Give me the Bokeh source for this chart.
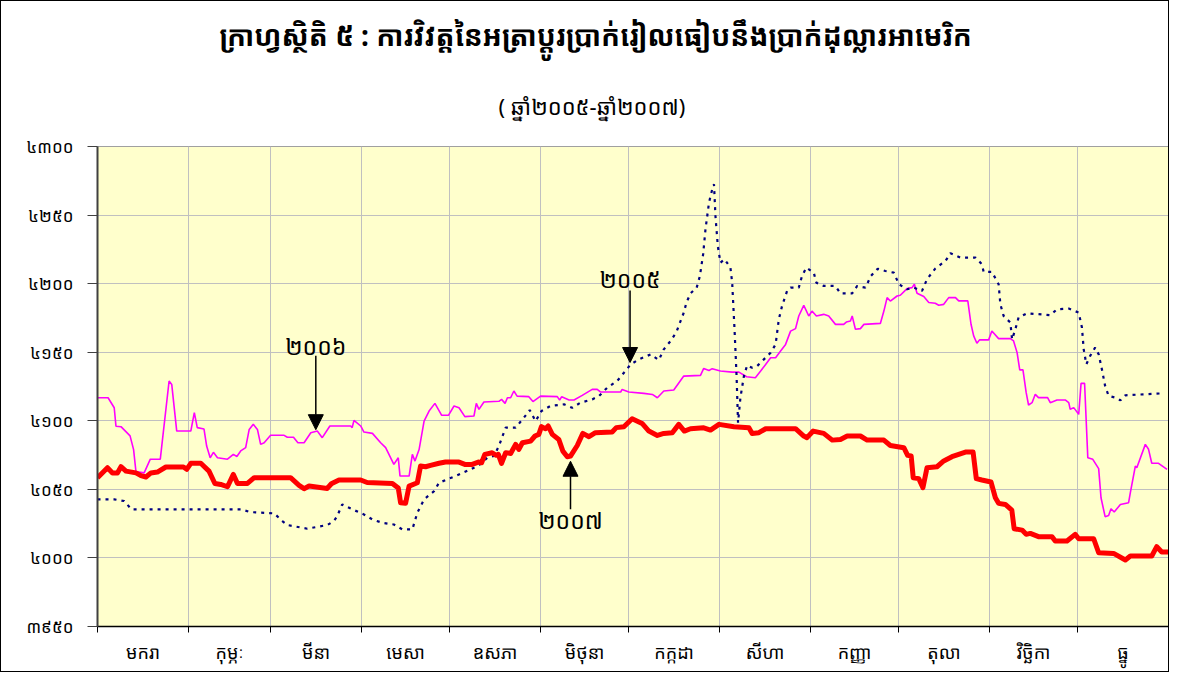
from bokeh.plotting import figure
from bokeh.models import FixedTicker, Title, Arrow, NormalHead, Label, Range1d
from bokeh.embed import file_html
from bokeh.resources import INLINE

KH = "Khmer OS, Noto Sans Khmer, Noto Serif Khmer, Noto Sans"

title_text = "ក្រាហ្វស្ថិតិ ៥ : ការវិវត្តនៃអត្រាប្តូរប្រាក់រៀលធៀបនឹងប្រាក់ដុល្លារអាមេរិក"
subtitle_text = "( ឆ្នាំ២០០៥-ឆ្នាំ២០០៧)"

months = ["មករា", "កុម្ភៈ", "មីនា", "មេសា", "ឧសភា", "មិថុនា",
          "កក្កដា", "សីហា", "កញ្ញា", "តុលា", "វិច្ឆិកា", "ធ្នូ"]
month_days = [31, 28, 31, 30, 31, 30, 31, 31, 30, 31, 30, 31]

y_ticks = [3950, 4000, 4050, 4100, 4150, 4200, 4250, 4300]
y_tick_labels = ["៣៩៥០", "៤០០០", "៤០៥០", "៤១០០", "៤១៥០", "៤២០០", "៤២៥០", "៤៣០០"]

series_names = ["២០០៥", "២០០៦", "២០០៧"]

# day of year -> riel per USD
days_2005 = [0, 5.7, 9.1, 11.6, 48.8, 52.2, 60.2, 63, 64.7, 71.5, 78.3, 80.6, 81.7, 83.4, 87.4,
             90.8, 93.7, 97.1, 101, 103.9, 107.3, 109, 111.3, 114.7, 116.4, 119.2, 122.6, 126.6,
             130, 132.8, 135.1, 136.8, 139.1, 142.5, 145.3, 147.3, 149.3, 151.3, 154.4, 159,
             161.8, 164.6, 168.6, 170.9, 173.7, 177.1, 179.4, 181.7, 184.5, 188.5, 191.3, 193,
             195.3, 197.3, 198.5, 199.8, 200.7, 202.1, 204.2, 205.3, 206.4, 207.2, 208.4, 209.5,
             210.1, 210.6, 211.4, 212.3, 213.7, 215.7, 216.3, 217.1, 217.8, 218.3, 219.1, 220.3,
             221.4, 223.1, 224.8, 227.1, 229.4, 231.1, 232.2, 233.3, 235, 236.2, 239, 240.1,
             241.6, 244.1, 245, 247.5, 251.5, 253.2, 257.2, 258.9, 261.7, 263.6, 265.9, 268.5,
             271.4, 273.1, 275.9, 278.2, 281, 282.7, 285.5, 289, 290.7, 294.1, 299.2, 301.4,
             302, 304.8, 307.1, 307.7, 308.8, 311.1, 311.7, 312.8, 313.9, 316.8, 324.7, 327,
             331, 334.4, 335.5, 336.1, 337, 338.3, 340, 341.2, 342.3, 343.4, 344.6, 346.8,
             348.6, 350.3, 362.7]
rate_2005 = [4042.7, 4042.7, 4041.5, 4035.4, 4035.4, 4033.4, 4032.5, 4026.9, 4024, 4021.3, 4024,
             4026.9, 4030.5, 4039, 4034.9, 4031.7, 4028, 4025.6, 4024.4, 4020.8, 4020.8, 4032.9,
             4042.7, 4048.7, 4054.8, 4057.3, 4060.2, 4064.1, 4067.5, 4073, 4074.3, 4081.6, 4095,
             4095, 4102.2, 4107.8, 4099.8, 4107.1, 4110.8, 4112, 4109.5, 4113.2, 4115.6, 4118,
             4124.1, 4129, 4135, 4141.1, 4144.8, 4148.4, 4144.3, 4152.1, 4158.2, 4164.7, 4171.5,
             4178.8, 4186.1, 4192.9, 4197.1, 4205.6, 4221.4, 4239.6, 4259.1, 4268.8, 4272.5,
             4249.4, 4227.5, 4215.3, 4217.8, 4211.7, 4200.7, 4166.7, 4132.6, 4098.6, 4116.8,
             4132.6, 4140.4, 4138.7, 4139.9, 4144.8, 4149.6, 4155.7, 4174, 4183.7, 4194.6,
             4197.1, 4197.1, 4205.6, 4211.7, 4208, 4200.7, 4198.3, 4198.3, 4192.9, 4192.9,
             4198.3, 4197.1, 4205.6, 4210.9, 4209.2, 4208, 4199.6, 4195.9, 4197.1, 4194.7,
             4203.2, 4211, 4216.6, 4222.2, 4219, 4219, 4214.2, 4208.6, 4208.6, 4199.6, 4185,
             4176.5, 4171.6, 4159.4, 4166.7, 4175.3, 4178.4, 4177, 4181.3, 4181.8, 4178.9, 4168,
             4152.1, 4141.2, 4147.3, 4153.4, 4148.5, 4137.6, 4125.4, 4118.1, 4116.9, 4114.9,
             4118.6, 4120]

days_2006 = [0, 3.6, 5.7, 6.3, 8, 11.1, 12.3, 13.1, 15.9, 18, 21.4, 24.4, 25.3, 27, 31.8, 33, 34,
             36.3, 37.2, 38.4, 39.5, 40.9, 44.3, 46.3, 47.5, 48.8, 50.5, 51.7, 53.1, 54.5, 55.6,
             56.8, 59, 63.6, 64.7, 66.8, 68.3, 70.4, 72.7, 74.9, 76.6, 79.2, 86.3, 86.8, 87.4,
             89.7, 90.8, 93.7, 96.5, 98.2, 101, 102.5, 103.1, 106.2, 107.3, 108.2, 109.6, 111.3,
             113, 115, 117.3, 119.6, 121.5, 123.2, 125.2, 128.3, 129.1, 130, 131.7, 136.8, 137.7,
             138.9, 139.7, 140.8, 141.9, 143, 147, 148.4, 151, 156.7, 157.5, 158.2, 160.7, 162.4,
             165.2, 168.6, 170.3, 171.4, 178.3, 178.8, 181.1, 186.2, 189.1, 190.8, 193, 196.4,
             199.8, 205.5, 206.6, 208.4, 209.5, 212.3, 216.3, 218.6, 221.2, 224.2, 226, 227.7,
             229.4, 231.1, 232.8, 234.5, 236.2, 237.9, 239, 240.7, 242.4, 243.5, 245, 247.5,
             249.2, 251.5, 254.3, 255.2, 256.6, 257.2, 258.3, 260, 261.2, 266.8, 268, 269.1,
             270.2, 272.5, 273.6, 275.9, 277.6, 278.4, 279.3, 281.6, 283.3, 285.5, 286.7, 288.4,
             290.1, 292.4, 293.5, 296.6, 297.7, 298.6, 299.7, 300.6, 303.7, 304.8, 307.1, 311.1,
             312.2, 313.4, 314.3, 315.4, 316.5, 317.3, 318.5, 319.6, 320.7, 323.8, 324.7, 327,
             329.8, 331, 331.5, 332.7, 334.4, 335.2, 336.4, 337.5, 339.2, 341.2, 342, 343.4,
             344.6, 345.4, 346.5, 348.6, 351.4, 352, 353.7, 354.2, 357.1, 358.2, 359.3, 361.6,
             364.5]
rate_2006 = [4116.8, 4116.8, 4109.5, 4096, 4095.7, 4089, 4079, 4063, 4062, 4072, 4072, 4129,
             4126.5, 4092.5, 4092.5, 4106, 4095, 4094, 4081.6, 4073, 4077, 4073, 4072, 4075.5,
             4074, 4078, 4080.4, 4093.7, 4097.4, 4093.7, 4082.8, 4084, 4089.4, 4089.4, 4088,
             4088, 4084, 4084, 4091.3, 4092.5, 4087.7, 4096.2, 4096.2, 4095, 4100.3, 4096.2,
             4091.8, 4090.8, 4084, 4080.4, 4068.2, 4073, 4059.7, 4059.7, 4075.5, 4070.6, 4079,
             4099.8, 4107.1, 4112.7, 4104, 4104, 4110.8, 4109.5, 4103, 4103.5, 4112.7, 4108.3,
             4113.7, 4114.2, 4115.6, 4112.7, 4116.8, 4116.8, 4121.7, 4118, 4117.6, 4114, 4118,
             4117.6, 4115.1, 4117.6, 4115.2, 4115.2, 4118.5, 4122.9, 4122.9, 4121, 4121, 4122.9,
             4121, 4120, 4119.2, 4116.8, 4121.7, 4122.4, 4132.6, 4133.1, 4138.2, 4136.7, 4138,
             4136.3, 4135.5, 4135.5, 4132.1, 4131.4, 4136.3, 4141.1, 4146, 4146, 4150.9, 4155.7,
             4165.4, 4167.2, 4176.4, 4184.2, 4176.4, 4180, 4176.4, 4177.6, 4176.4, 4170.3,
             4170.3, 4172, 4172.8, 4176.4, 4166.7, 4167.2, 4170.3, 4171, 4180, 4189.8, 4187.3,
             4191, 4191.5, 4196.4, 4197.1, 4199.6, 4193, 4190.6, 4186.2, 4185.7, 4184.2, 4184.9,
             4189.8, 4189.8, 4187.4, 4187.4, 4170.4, 4161.9, 4156.5, 4159, 4159, 4165.5, 4159.9,
             4159.9, 4158.2, 4149.7, 4137.1, 4137.1, 4120.5, 4111.5, 4113.2, 4119.3, 4116.9,
             4116.9, 4113.2, 4115.2, 4115.2, 4113.2, 4108.4, 4109.6, 4104.7, 4127.3, 4127.3,
             4073.1, 4071.9, 4065.1, 4043.9, 4030.1, 4031, 4035.9, 4033.5, 4039, 4040.3, 4047.6,
             4067, 4065.8, 4082.8, 4079.2, 4069, 4069, 4064.6]

days_2007 = [0, 3.4, 5.1, 6.8, 8, 9.7, 13.1, 14.8, 16.5, 18.2, 20.4, 23.3, 29.3, 30.4, 31.8,
             35.2, 38, 40, 42, 44.3, 46.3, 47.7, 51.1, 53.4, 65.8, 68.7, 70.4, 72.1, 78.3, 79.7,
             82.3, 89.7, 91.9, 100.5, 102.5, 103.3, 105, 106.2, 109, 110.1, 111.8, 113.5, 116.4,
             118.6, 123.2, 125.2, 127.7, 129.8, 130.9, 132, 134.5, 135.9, 136.6, 137.7, 139.1,
             140.8, 142.5, 143.6, 144.8, 147.6, 149.1, 150.4, 151.3, 152.7, 153.6, 155, 157.2,
             158.6, 160.1, 161.2, 163.5, 165.4, 167.5, 169.7, 175.4, 176.8, 179.4, 182.2, 185.6,
             187.9, 190.8, 193, 195.9, 198.1, 200, 202.1, 206.6, 208.9, 211.8, 216.9, 222, 223.1,
             225.4, 227.7, 237.9, 240.7, 241.8, 243.9, 247.5, 250.4, 253.2, 255.5, 260, 262.3,
             268, 270.2, 274.8, 276.1, 277.3, 278, 279.9, 281.3, 282.7, 286.1, 288.4, 291.2,
             293.5, 295.8, 298.4, 299.5, 301.4, 304.5, 306, 307.1, 309.4, 311.6, 312.4, 315.1,
             316.5, 317.9, 320.7, 325.3, 326.4, 330.4, 333.2, 334.4, 339.5, 341.2, 346.3, 350.3,
             352, 359.3, 361, 362.7, 365]
rate_2007 = [4058.5, 4065.8, 4062, 4062, 4066.5, 4063.3, 4062, 4060, 4059, 4062, 4062.6, 4066.3,
             4066.3, 4064.6, 4069, 4069, 4063.3, 4054.3, 4053.6, 4051.9, 4060.9, 4054.3, 4054.3,
             4058.5, 4058.5, 4052.9, 4050.5, 4052.4, 4050.7, 4054.1, 4056.8, 4056.8, 4055,
             4054.3, 4051, 4040.2, 4039.8, 4052.4, 4054.8, 4067, 4066.5, 4067.5, 4069, 4069.9,
             4069.9, 4068.2, 4068.2, 4069.9, 4069.4, 4075.5, 4076.7, 4074.8, 4075.5, 4069,
             4076.7, 4076.2, 4082.8, 4079.2, 4084, 4085.2, 4088.9, 4090.1, 4095.7, 4094.2,
             4096.2, 4090.1, 4086.4, 4077.9, 4073.8, 4074.3, 4082, 4090.8, 4088.4, 4091.3,
             4091.8, 4095, 4095.7, 4101.5, 4098.1, 4092.5, 4089.3, 4090.8, 4091.3, 4097.4,
             4092.5, 4094.2, 4094.9, 4093.2, 4097.4, 4095.7, 4094.9, 4090.8, 4091.3, 4094.2,
             4094.2, 4088.9, 4087.7, 4092.5, 4090.8, 4085.9, 4086.4, 4088.9, 4088.9, 4085.9,
             4085.9, 4082, 4080.4, 4074.8, 4074.3, 4058.5, 4057.8, 4051.2, 4065.8, 4066.5,
             4070.7, 4073.8, 4075.5, 4077.2, 4077.2, 4057.8, 4056.8, 4055.4, 4043.9, 4039.8,
             4039, 4034.9, 4021.3, 4020.3, 4017.2, 4017.9, 4015.5, 4015.5, 4012.3, 4012.3,
             4017.2, 4014, 4014, 4003.8, 4003.3, 3998.5, 4001.4, 4001.4, 4008.2, 4004.3, 4004.3]

# month boundaries and centres (day of year)
bounds = [0]
for n in month_days:
    bounds.append(bounds[-1] + n)
mids = [(bounds[i] + bounds[i + 1]) / 2 for i in range(12)]

p = figure(width=1169, height=672, output_backend="svg", toolbar_location=None,
           x_range=Range1d(0, 365), y_range=Range1d(3950, 4300),
           min_border_left=96, min_border_right=2, min_border_top=145, min_border_bottom=47,
           background_fill_color="#FFFFCC", border_fill_color="white",
           outline_line_color="#A0A0A0")

p.add_layout(Title(text=subtitle_text, align="left", text_font=KH, text_font_size="22px",
                   text_font_style="normal", text_color="black", standoff=51, offset=401), "above")
p.add_layout(Title(text=title_text, align="left", text_font=KH, text_font_size="28px",
                   text_font_style="bold", text_color="black", standoff=20, offset=122), "above")

# grids
p.ygrid.ticker = FixedTicker(ticks=y_ticks)
p.ygrid.grid_line_color = "#C0C0C0"
p.xgrid.ticker = FixedTicker(ticks=mids, minor_ticks=bounds)
p.xgrid.grid_line_color = None
p.xgrid.minor_grid_line_color = "#C0C0C0"

# y axis
p.yaxis.ticker = FixedTicker(ticks=y_ticks)
p.yaxis.major_label_overrides = {t: l for t, l in zip(y_ticks, y_tick_labels)}
p.yaxis.major_label_text_font = KH
p.yaxis.major_label_text_font_size = "17px"
p.yaxis.major_label_text_color = "black"
p.yaxis.major_tick_in = 0
p.yaxis.major_tick_out = 10
p.yaxis.major_label_standoff = 14
p.yaxis.axis_line_color = "#404040"
p.yaxis.axis_line_width = 2
p.yaxis.major_tick_line_color = "#404040"

# x axis
p.xaxis.ticker = FixedTicker(ticks=mids, minor_ticks=bounds)
p.xaxis.major_label_overrides = {m: name for m, name in zip(mids, months)}
p.xaxis.major_label_text_font = KH
p.xaxis.major_label_text_font_size = "18px"
p.xaxis.major_label_text_color = "black"
p.xaxis.major_tick_line_color = None
p.xaxis.minor_tick_in = 0
p.xaxis.minor_tick_out = 6
p.xaxis.minor_tick_line_color = "black"
p.xaxis.axis_line_color = "black"
p.xaxis.axis_line_width = 1.5
p.xaxis.major_label_standoff = 7

# series
p.line(days_2006, rate_2006, line_color="#FF00FF", line_width=1.6)
p.line(days_2005, rate_2005, line_color="#000080", line_width=2.2, line_dash="3 5")
p.line(days_2007, rate_2007, line_color="#FF0000", line_width=5, line_join="round")

# annotations (label, x, text y, arrow start y, arrow end y)
annots = [
    (series_names[1], 74.4, 4154.5, 4147.5, 4093.5),
    (series_names[0], 181.5, 4203.5, 4195.0, 4142.5),
    (series_names[2], 161.2, 4028.0, 4035.5, 4070.5),
]
for txt, xd, ty, ys, ye in annots:
    p.add_layout(Arrow(end=NormalHead(size=15, fill_color="black", line_color="black"),
                       x_start=xd, y_start=ys, x_end=xd, y_end=ye,
                       line_color="black", line_width=1.5))
    p.add_layout(Label(x=xd, y=ty, text=txt, text_align="center", text_baseline="middle",
                       text_font=KH, text_font_size="23px", text_color="black"))

p.styles = {"border": "1px solid black"}

open("out.html", "w").write(file_html(p, INLINE))
